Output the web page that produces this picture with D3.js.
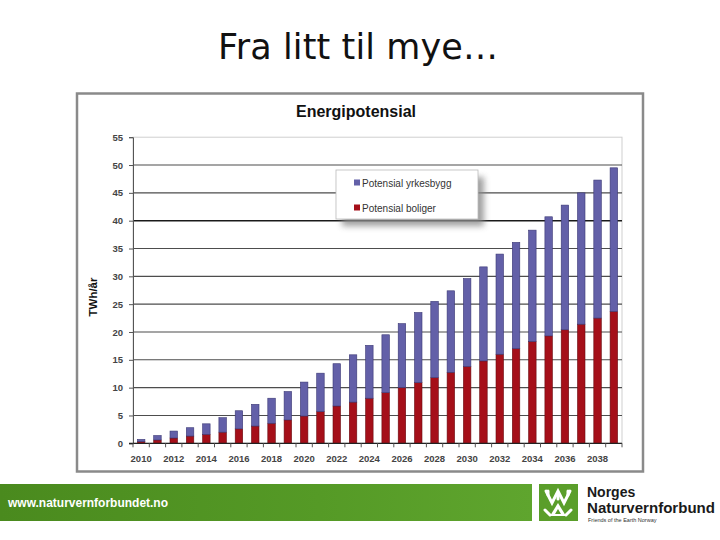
<!DOCTYPE html>
<html><head><meta charset="utf-8">
<script src="https://cdn.jsdelivr.net/npm/d3@7"></script>
<style>html,body{margin:0;padding:0;background:#fff;}svg{display:block;}</style>
</head><body>
<svg id="c" width="720" height="540"></svg>
<script>
const years = d3.range(2010, 2040);
const boliger =    [0.3,0.6,0.95,1.3,1.6,2.0,2.6,3.1,3.6,4.2,4.9,5.7,6.7,7.4,8.1,9.1,10.0,10.9,11.8,12.75,13.8,14.8,16.0,17.0,18.3,19.3,20.4,21.4,22.5,23.7];
const yrkesbygg =  [0.4,0.8,1.25,1.5,1.9,2.6,3.25,3.9,4.5,5.1,6.1,6.9,7.6,8.5,9.5,10.4,11.5,12.6,13.7,14.65,15.8,16.9,18.0,19.1,20.0,21.4,22.4,23.6,24.8,25.8];
const yTicks = d3.range(0, 60, 5);
const xTickLabels = d3.range(2010, 2040, 2);
const seriesNames = ["Potensial yrkesbygg", "Potensial boliger"];

const svg = d3.select("#c");
const FONT = "Liberation Sans, Arial, sans-serif";

// slide title
svg.append("text").attr("x", 358).attr("y", 59).attr("text-anchor", "middle")
  .attr("font-family", "DejaVu Sans, Verdana, sans-serif").attr("font-size", 35).attr("fill", "#111")
  .attr("textLength", 280).attr("lengthAdjust", "spacing")
  .text("Fra litt til mye…");

// chart image frame
svg.append("rect").attr("x", 77).attr("y", 93.5).attr("width", 566).attr("height", 378)
  .attr("fill", "#fff").attr("stroke", "#8a8a8a").attr("stroke-width", 2.5);

svg.append("text").attr("x", 356).attr("y", 117).attr("text-anchor", "middle")
  .attr("font-family", FONT).attr("font-weight", "bold").attr("font-size", 16).attr("fill", "#111")
  .text("Energipotensial");

const x = d3.scaleBand().domain(years).range([133, 622]).paddingInner(0.54).paddingOuter(0.27);
const y = d3.scaleLinear().domain([0, 55]).range([443.3, 137.2]);

// plot area border
svg.append("rect").attr("x", 133).attr("y", y(55)).attr("width", 489).attr("height", y(0) - y(55))
  .attr("fill", "none").attr("stroke", "#cfcfcf").attr("stroke-width", 1);

// gridlines
svg.append("g").selectAll("line").data(yTicks.filter(d => d > 0 && d < 55)).join("line")
  .attr("x1", 133).attr("x2", 622).attr("y1", d => y(d)).attr("y2", d => y(d))
  .attr("stroke", d => d === 40 ? "#1a1a1a" : "#4d4d4d").attr("stroke-width", d => d === 40 ? 1.4 : 1.1);

// y axis
const yAxis = d3.axisLeft(y).tickValues(yTicks).tickSize(4).tickPadding(6);
const gy = svg.append("g").attr("transform", "translate(133,0)").call(yAxis);
gy.select(".domain").attr("stroke", "#555");
gy.selectAll(".tick line").attr("stroke", "#555");
gy.selectAll("text").attr("font-family", FONT).attr("font-size", 9.5).attr("font-weight", "bold").attr("fill", "#444");

// stacked bars
const rows = years.map((yr, i) => ({year: yr, boliger: boliger[i], yrkesbygg: yrkesbygg[i]}));
const stack = d3.stack().keys(["boliger", "yrkesbygg"])(rows);
const colors = {boliger: "#a50f19", yrkesbygg: "#6360a8"};
const strokes = {boliger: "#6a0a10", yrkesbygg: "#3b3875"};
svg.append("g").selectAll("g").data(stack).join("g")
  .attr("fill", d => colors[d.key]).attr("stroke", d => strokes[d.key]).attr("stroke-width", 0.6)
  .selectAll("rect").data(d => d).join("rect")
  .attr("x", d => x(d.data.year)).attr("width", x.bandwidth())
  .attr("y", d => y(d[1])).attr("height", d => y(d[0]) - y(d[1]));

// x axis
const step = x.step();
const gx = svg.append("g").attr("transform", `translate(0,${y(0)})`);
gx.append("line").attr("x1", 129).attr("x2", 622).attr("stroke", "#222").attr("stroke-width", 1.2);
gx.selectAll("line.t").data(years.concat([2040])).join("line").attr("class", "t")
  .attr("x1", d => 133 + (d - 2010) * step).attr("x2", d => 133 + (d - 2010) * step)
  .attr("y1", 0).attr("y2", 4).attr("stroke", "#555");
gx.selectAll("text").data(xTickLabels).join("text")
  .attr("x", d => x(d) + x.bandwidth() / 2).attr("y", 18.5).attr("text-anchor", "middle")
  .attr("font-family", FONT).attr("font-size", 9.5).attr("font-weight", "bold").attr("fill", "#444")
  .text(d => d);

// y axis title
svg.append("text").attr("transform", "translate(97,297) rotate(-90)").attr("text-anchor", "middle")
  .attr("font-family", FONT).attr("font-weight", "bold").attr("font-size", 11.5).attr("fill", "#111")
  .text("TWh/år");

// legend with shadow
const defs = svg.append("defs");
const f = defs.append("filter").attr("id", "sh").attr("x", "-20%").attr("y", "-30%").attr("width", "150%").attr("height", "180%");
f.append("feGaussianBlur").attr("stdDeviation", 3);
svg.append("rect").attr("x", 342).attr("y", 177).attr("width", 142).attr("height", 49).attr("fill", "#888").attr("opacity", 0.8).attr("filter", "url(#sh)");
svg.append("rect").attr("x", 336).attr("y", 170).attr("width", 142).attr("height", 49).attr("fill", "#fff").attr("stroke", "#bbb").attr("stroke-width", 0.8);
const leg = svg.append("g").selectAll("g").data(seriesNames).join("g")
  .attr("transform", (d, i) => `translate(354,${183 + i * 25})`);
leg.append("rect").attr("x", 0).attr("y", -3.5).attr("width", 6).attr("height", 6)
  .attr("fill", (d, i) => i === 0 ? colors.yrkesbygg : colors.boliger);
leg.append("text").attr("x", 8).attr("y", 3.5).attr("font-family", FONT).attr("font-size", 10).attr("fill", "#333").text(d => d);

// footer banner
const grad = defs.append("linearGradient").attr("id", "gr").attr("x1", 0).attr("x2", 1);
grad.append("stop").attr("offset", 0).attr("stop-color", "#4a8a1e");
grad.append("stop").attr("offset", 0.6).attr("stop-color", "#559a26");
grad.append("stop").attr("offset", 1).attr("stop-color", "#5fa52e");
svg.append("rect").attr("x", 0).attr("y", 484).attr("width", 532).attr("height", 37).attr("fill", "url(#gr)");
svg.append("text").attr("x", 8).attr("y", 507).attr("font-family", FONT).attr("font-size", 12).attr("font-weight", "bold")
  .attr("fill", "#fff").attr("textLength", 160).attr("lengthAdjust", "spacingAndGlyphs").text("www.naturvernforbundet.no");

// logo
svg.append("rect").attr("x", 539).attr("y", 484).attr("width", 39).attr("height", 37).attr("fill", "#5a9e2a");
const lg = svg.append("g").attr("fill", "none").attr("stroke", "#fff").attr("stroke-width", 3).attr("stroke-linecap", "round");
lg.append("path").attr("d", "M546,491 L552,503 L558,491 L564,503 L570,491");
lg.append("path").attr("d", "M548,491 L548,495 M568,491 L568,495 M558,495 L558,499");
svg.append("path").attr("d", "M558,503 L550,516 L566,516 Z").attr("fill", "#fff");
svg.append("path").attr("d", "M558,509 L555,514 L561,514 Z").attr("fill", "#5a9e2a");
lg.append("path").attr("d", "M545,510 L550,515 M571,510 L566,515");
svg.append("text").attr("x", 587).attr("y", 496.5).attr("font-family", FONT).attr("font-weight", "bold").attr("font-size", 14).attr("fill", "#1a1a1a").text("Norges");
svg.append("text").attr("x", 587).attr("y", 512.5).attr("font-family", FONT).attr("font-weight", "bold").attr("font-size", 14).attr("fill", "#1a1a1a")
  .attr("textLength", 128).attr("lengthAdjust", "spacingAndGlyphs").text("Naturvernforbund");
svg.append("text").attr("x", 588).attr("y", 521.5).attr("font-family", FONT).attr("font-size", 5.5).attr("fill", "#333").text("Friends of the Earth Norway");
</script>
</body></html>
